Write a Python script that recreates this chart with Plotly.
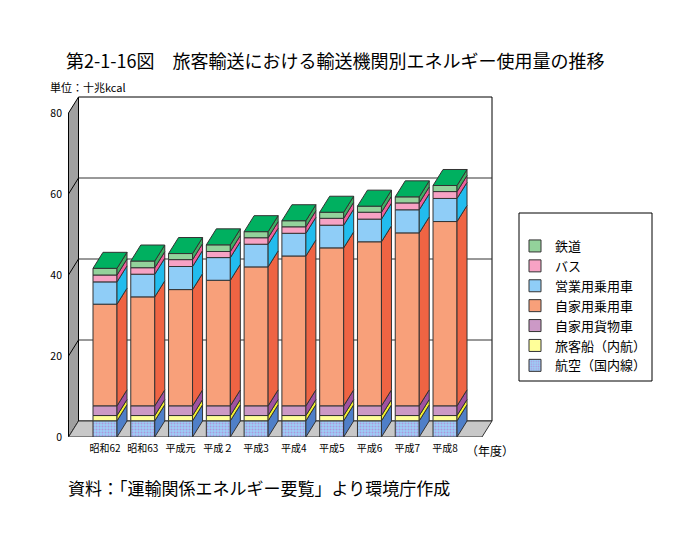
import plotly.graph_objects as go

# ---------------- data ----------------
years = ["昭和62", "昭和63", "平成元", "平成２", "平成3", "平成4", "平成5", "平成6", "平成7", "平成8"]
air     = [4.0, 4.0, 4.0, 4.0, 4.0, 4.0, 4.0, 4.0, 4.0, 4.0]        # 航空（国内線）
ship    = [1.3, 1.3, 1.3, 1.3, 1.3, 1.3, 1.3, 1.3, 1.3, 1.3]        # 旅客船（内航）
truck   = [2.4, 2.4, 2.4, 2.4, 2.4, 2.4, 2.4, 2.4, 2.4, 2.4]        # 自家用貨物車
private = [25.1, 26.9, 28.7, 31.0, 34.3, 37.0, 39.0, 40.5, 42.7, 45.5]  # 自家用乗用車
taxi    = [5.5, 5.6, 5.7, 5.6, 5.6, 5.6, 5.6, 5.6, 5.7, 5.7]      # 営業用乗用車
bus     = [1.7, 1.6, 1.7, 1.5, 1.6, 1.6, 1.7, 1.7, 1.7, 1.7]      # バス
rail    = [1.65, 1.65, 1.5, 1.65, 1.5, 1.5, 1.5, 1.5, 1.5, 1.5]   # 鉄道

series = [
    ("航空（国内線）", air, "#9ccff7", "#4f7fc8"),
    ("旅客船（内航）", ship, "#ffff99", "#f4f030"),
    ("自家用貨物車", truck, "#cc99c6", "#a052a0"),
    ("自家用乗用車", private, "#f8a07a", "#ef6443"),
    ("営業用乗用車", taxi, "#8fcdf7", "#22bcee"),
    ("バス", bus, "#f7a2c4", "#ef5f9c"),
    ("鉄道", rail, "#93d29b", "#3fae62"),
]
TOP_COLOR = "#00b060"

FONT = "Noto Sans CJK JP"

# ---------------- geometry (pixels -> data units) ----------------
OFF = 8        # page body margin
W, H = 690 - OFF, 544 - OFF
PX_X = 37.78   # px per category
PX_Y = 4.05    # px per value unit
DX = 10 / PX_X
DY = 16 / PX_Y
BW = 24 / PX_X
L, R, T, B = 68, 495, 95, 437
x0 = -(105 - L) / PX_X
x1 = x0 + (R - L) / PX_X
y1 = (B - T) / PX_Y
xl = (68.5 - 105) / PX_X
xr = (482 - 105) / PX_X

def px2paper(px, py):
    return (px - L) / (R - L), (B - py) / (B - T)

fig = go.Figure()

xs = list(range(len(years)))
base = [0.0] * len(years)
bottoms = []
for name, vals, col, side in series:
    bottoms.append(list(base))
    base = [b + v for b, v in zip(base, vals)]

# front faces
for (name, vals, col, side), bot in zip(series, bottoms):
    marker = dict(color=col, line=dict(color="#333333", width=1))
    if name.startswith("航空"):
        marker["pattern"] = dict(shape=".", fgcolor="#c060c0", bgcolor=col, size=3, solidity=0.35)
    fig.add_trace(go.Bar(
        x=xs, y=vals, base=bot, name=name, width=BW, marker=marker,
        hoverinfo="skip"))

# side faces
for (name, vals, col, side), bot in zip(series, bottoms):
    px, py = [], []
    for i, (v, b) in enumerate(zip(vals, bot)):
        xe = i + BW / 2
        px += [xe, xe + DX, xe + DX, xe, xe, None]
        py += [b, b + DY, b + v + DY, b + v, b, None]
    fig.add_trace(go.Scatter(x=px, y=py, mode="lines", fill="toself", fillcolor=side,
                             line=dict(color="#333333", width=1), showlegend=False,
                             hoverinfo="skip"))

# top faces
px, py = [], []
for i, tot in enumerate(base):
    xa, xb = i - BW / 2, i + BW / 2
    px += [xa, xa + DX, xb + DX, xb, xa, None]
    py += [tot, tot + DY, tot + DY, tot, tot, None]
fig.add_trace(go.Scatter(x=px, y=py, mode="lines", fill="toself", fillcolor=TOP_COLOR,
                         line=dict(color="#333333", width=1), showlegend=False, hoverinfo="skip"))

# ---------------- walls / floor ----------------
shapes = []
shapes.append(dict(type="rect", xref="x", yref="y", x0=xl + DX, y0=DY, x1=xr + DX, y1=80 + DY,
                   fillcolor="white", line=dict(color="black", width=1), layer="below"))
for v in [20, 40, 60]:
    shapes.append(dict(type="line", xref="x", yref="y", x0=xl + DX, y0=v + DY, x1=xr + DX, y1=v + DY,
                       line=dict(color="#333333", width=1), layer="below"))
shapes.append(dict(type="path", xref="x", yref="y",
                   path=f"M{xl},0 L{xl + DX},{DY} L{xl + DX},{80 + DY} L{xl},80 Z",
                   fillcolor="#a0a0a0", line=dict(color="black", width=1), layer="below"))
for v in [20, 40, 60]:
    shapes.append(dict(type="line", xref="x", yref="y", x0=xl, y0=v, x1=xl + DX, y1=v + DY,
                       line=dict(color="black", width=1), layer="below"))
shapes.append(dict(type="path", xref="x", yref="y",
                   path=f"M{xl},0 L{xl + DX},{DY} L{xr + DX},{DY} L{xr},0 Z",
                   fillcolor="#c8c8c8", line=dict(color="#333333", width=1), layer="below"))
# legend box
bx0, by0 = px2paper(519, 381)
bx1, by1 = px2paper(652, 213)
shapes.append(dict(type="rect", xref="paper", yref="paper", x0=bx0, y0=by0, x1=bx1, y1=by1,
                   fillcolor="white", line=dict(color="black", width=1), layer="below"))

annotations = []
def add_text(text, px, py, size, xanchor="left"):
    ax, ay = px2paper(px, py)
    annotations.append(dict(text=text, x=ax, y=ay, xref="paper", yref="paper", showarrow=False,
                            xanchor=xanchor, yanchor="middle", font=dict(family=FONT, size=size, color="black")))

add_text("第2-1-16図　旅客輸送における輸送機関別エネルギー使用量の推移", 64, 60, 18)
add_text("単位：十兆kcal", 48, 87, 11)
add_text("（年度）", 464, 450, 12)
add_text("資料：「運輸関係エネルギー要覧」より環境庁作成", 66, 487, 17)

lx, ly = px2paper(515, 231)
fig.update_layout(
    width=W, height=H,
    margin=dict(l=L - OFF, r=W - (R - OFF), t=T - OFF, b=H - (B - OFF), autoexpand=False),
    paper_bgcolor="white", plot_bgcolor="rgba(0,0,0,0)",
    barmode="overlay",
    font=dict(family=FONT, color="black"),
    shapes=shapes, annotations=annotations,
    showlegend=True,
    legend=dict(x=lx, y=ly, xanchor="left", yanchor="top", traceorder="reversed",
                bgcolor="rgba(0,0,0,0)", font=dict(family=FONT, size=13), tracegroupgap=0,
                itemwidth=30),
    xaxis=dict(range=[x0, x1], tickvals=xs, ticktext=years, showgrid=False, zeroline=False,
               showline=False, ticks="", tickfont=dict(size=10), ticklabelstandoff=4),
    yaxis=dict(range=[0, y1], tickvals=[0, 20, 40, 60, 80], showgrid=False, zeroline=False,
               showline=False, ticks="", tickfont=dict(size=10.5), ticklabelstandoff=5),
)

fig.write_html("out.html")
